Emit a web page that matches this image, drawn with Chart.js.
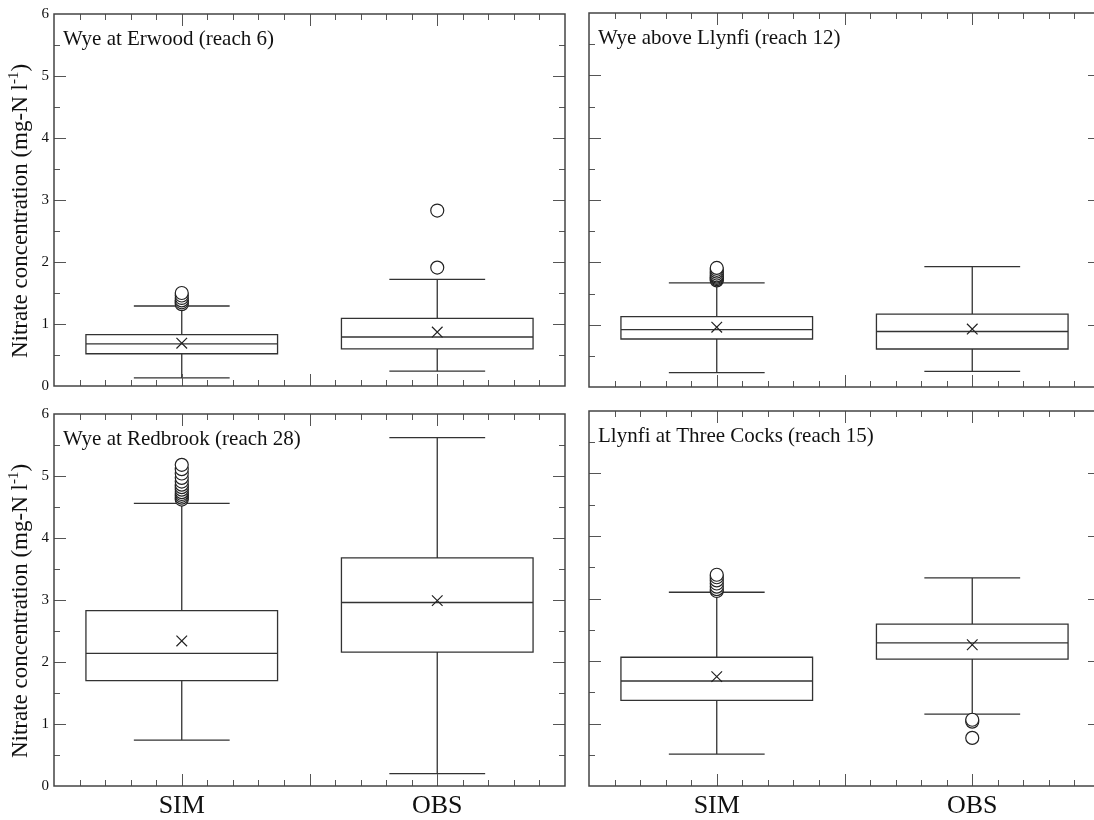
<!DOCTYPE html>
<html>
<head>
<meta charset="utf-8">
<script src="https://cdn.jsdelivr.net/npm/chart.js@4.4.1/dist/chart.umd.min.js"></script>
<style>
    html, body { margin: 0; padding: 0; background: #fff; }
    body { width: 1094px; height: 820px; overflow: hidden; position: relative; }
    canvas { position: absolute; }
</style>
</head>
<body>
<canvas id="p0" width="577" height="400" style="left:0;top:0"></canvas>
<canvas id="p1" width="535" height="400" style="left:577px;top:0"></canvas>
<canvas id="p2" width="577" height="420" style="left:0;top:400px"></canvas>
<canvas id="p3" width="535" height="420" style="left:577px;top:400px"></canvas>
<script>
// Box plot data, one entry per panel, each [SIM, OBS]
const categories = ['SIM', 'OBS'];
const panelTitles = ['Wye at Erwood (reach 6)', 'Wye above Llynfi (reach 12)', 'Wye at Redbrook (reach 28)', 'Llynfi at Three Cocks (reach 15)'];
const yTicks = [0, 1, 2, 3, 4, 5, 6];

const whiskerLow  = [[0.13, 0.24], [0.23, 0.25], [0.74, 0.20], [0.51, 1.15]];
const q1          = [[0.52, 0.60], [0.77, 0.61], [1.70, 2.16], [1.37, 2.03]];
const median      = [[0.68, 0.79], [0.92, 0.89], [2.14, 2.96], [1.68, 2.29]];
const q3          = [[0.83, 1.09], [1.13, 1.17], [2.83, 3.68], [2.06, 2.59]];
const whiskerHigh = [[1.29, 1.72], [1.67, 1.93], [4.56, 5.62], [3.10, 3.33]];
const means       = [[0.69, 0.87], [0.96, 0.93], [2.34, 2.99], [1.75, 2.26]];

const outliersSim = [
    [1.32, 1.35, 1.38, 1.42, 1.46, 1.50],
    [1.71, 1.73, 1.75, 1.77, 1.79, 1.82, 1.85, 1.88, 1.91],
    [4.62, 4.65, 4.68, 4.71, 4.74, 4.78, 4.82, 4.86, 4.91, 4.97, 5.04, 5.11, 5.18],
    [3.12, 3.15, 3.19, 3.24, 3.29, 3.34, 3.38]
];
const outliersObs = [
    [1.91, 2.83],
    [],
    [],
    [0.77, 1.03, 1.06]
];

const FONT = "'Liberation Serif', 'Times New Roman', serif";
const LINE = '#333';
Chart.defaults.font.family = FONT;
Chart.defaults.color = '#111';

// y axis title with a real superscript: [text, isSuperscript]
const yTitleParts = [['Nitrate concentration (mg-N l', false], ['-1', true], [')', false]];

function drawYTitle(ctx, a) {
    const big = '23px ' + FONT, small = '15px ' + FONT;
    const widths = yTitleParts.map(([t, sup]) => {
        ctx.font = sup ? small : big;
        return ctx.measureText(t).width;
    });
    const total = widths.reduce((s, w) => s + w, 0);
    ctx.save();
    ctx.translate(20, (a.top + a.bottom) / 2 + 11);
    ctx.rotate(-Math.PI / 2);
    ctx.fillStyle = '#111';
    ctx.textBaseline = 'alphabetic';
    let xx = -total / 2;
    yTitleParts.forEach(([t, sup], i) => {
        ctx.font = sup ? small : big;
        ctx.fillText(t, xx, sup ? -2 : 7);
        xx += widths[i];
    });
    ctx.restore();
}

// boxes, whiskers and medians, drawn through the chart's scales
const boxPlugin = {
    id: 'boxes',
    beforeDatasetsDraw(chart, args, opts) {
        const { ctx, scales: { x, y } } = chart;
        const p = opts.panel;
        ctx.save();
        ctx.strokeStyle = LINE;
        ctx.lineWidth = 1.3;
        categories.forEach((c, i) => {
            const cx = x.getPixelForValue(i);
            const bl = x.getPixelForValue(i - 0.375), br = x.getPixelForValue(i + 0.375);
            const wl = x.getPixelForValue(i - 0.1875), wr = x.getPixelForValue(i + 0.1875);
            const yq1 = y.getPixelForValue(q1[p][i]), yq3 = y.getPixelForValue(q3[p][i]);
            const ym = y.getPixelForValue(median[p][i]);
            const ylo = y.getPixelForValue(whiskerLow[p][i]), yhi = y.getPixelForValue(whiskerHigh[p][i]);
            ctx.beginPath();
            ctx.rect(bl, yq3, br - bl, yq1 - yq3);
            ctx.moveTo(bl, ym); ctx.lineTo(br, ym);
            ctx.moveTo(cx, yq3); ctx.lineTo(cx, yhi);
            ctx.moveTo(cx, yq1); ctx.lineTo(cx, ylo);
            ctx.moveTo(wl, yhi); ctx.lineTo(wr, yhi);
            ctx.moveTo(wl, ylo); ctx.lineTo(wr, ylo);
            ctx.stroke();
        });
        ctx.restore();
    },
    afterDraw(chart, args, opts) {
        const { ctx, chartArea: a, scales: { x, y } } = chart;
        ctx.save();
        // inward ticks on all four sides
        ctx.strokeStyle = '#555';
        ctx.lineWidth = 1;
        ctx.beginPath();
        for (let k = 1; k < 20; k++) {
            const px = Math.round(x.getPixelForValue(-0.5 + k * 0.1)) + 0.5;
            const len = k % 5 === 0 ? 12 : 6;
            ctx.moveTo(px, a.top); ctx.lineTo(px, a.top + len);
            ctx.moveTo(px, a.bottom); ctx.lineTo(px, a.bottom - len);
        }
        for (let k = 1; k < 12; k++) {
            const py = Math.round(y.getPixelForValue(k * 0.5)) + 0.5;
            const len = k % 2 === 0 ? 12 : 6;
            ctx.moveTo(a.left, py); ctx.lineTo(a.left + len, py);
            ctx.moveTo(a.right, py); ctx.lineTo(a.right - len, py);
        }
        ctx.stroke();
        ctx.strokeStyle = '#444';
        ctx.lineWidth = 1.5;
        ctx.strokeRect(a.left, a.top, a.right - a.left, a.bottom - a.top);
        // panel title
        ctx.fillStyle = '#111';
        ctx.font = '21px ' + FONT;
        ctx.textBaseline = 'alphabetic';
        ctx.fillText(panelTitles[opts.panel], a.left + 9, a.top + 31);
        ctx.restore();
        if (opts.yTitle) drawYTitle(ctx, a);
    }
};

function makePanel(p, canvasId, showY, showX) {
    const sims = outliersSim[p].map(v => ({ x: 'SIM', y: v }));
    const obs = outliersObs[p].map(v => ({ x: 'OBS', y: v }));
    const meanPts = means[p].map((v, i) => ({ x: categories[i], y: v }));

    return new Chart(document.getElementById(canvasId), {
        type: 'scatter',
        data: {
            datasets: [
                {
                    label: 'Mean',
                    data: meanPts,
                    pointStyle: 'crossRot',
                    pointRadius: 7.5,
                    borderColor: '#222',
                    borderWidth: 1.2,
                    backgroundColor: '#222'
                },
                {
                    label: 'Outliers',
                    data: sims.concat(obs),
                    pointStyle: 'circle',
                    pointRadius: 6.5,
                    borderColor: '#222',
                    borderWidth: 1.2,
                    backgroundColor: '#fff'
                }
            ]
        },
        options: {
            responsive: false,
            animation: false,
            events: [],
            layout: {
                padding: {
                    top: showX ? 11 : 13,
                    right: 12,
                    bottom: showX ? 0 : 13,
                    left: showY ? 0 : 12
                }
            },
            plugins: {
                legend: { display: false },
                tooltip: { enabled: false },
                boxes: { panel: p, yTitle: showY }
            },
            scales: {
                x: {
                    type: 'category',
                    labels: categories,
                    offset: true,
                    display: showX,
                    grid: { display: false, drawTicks: false },
                    border: { display: false },
                    ticks: { font: { size: 26 }, color: '#111', padding: 5 },
                    afterFit: s => { s.height = showX ? 34 : 0; }
                },
                y: {
                    min: 0,
                    max: 6,
                    display: showY,
                    afterBuildTicks: s => { s.ticks = yTicks.map(v => ({ value: v })); },
                    grid: { display: false, drawTicks: false },
                    border: { display: false },
                    ticks: { font: { size: 15 }, color: '#111', padding: 5 },
                    afterFit: s => { s.width = showY ? 54 : 0; }
                }
            }
        },
        plugins: [boxPlugin]
    });
}

document.addEventListener('DOMContentLoaded', () => {
    makePanel(0, 'p0', true, false);
    makePanel(1, 'p1', false, false);
    makePanel(2, 'p2', true, true);
    makePanel(3, 'p3', false, true);
});
</script>
</body>
</html>
